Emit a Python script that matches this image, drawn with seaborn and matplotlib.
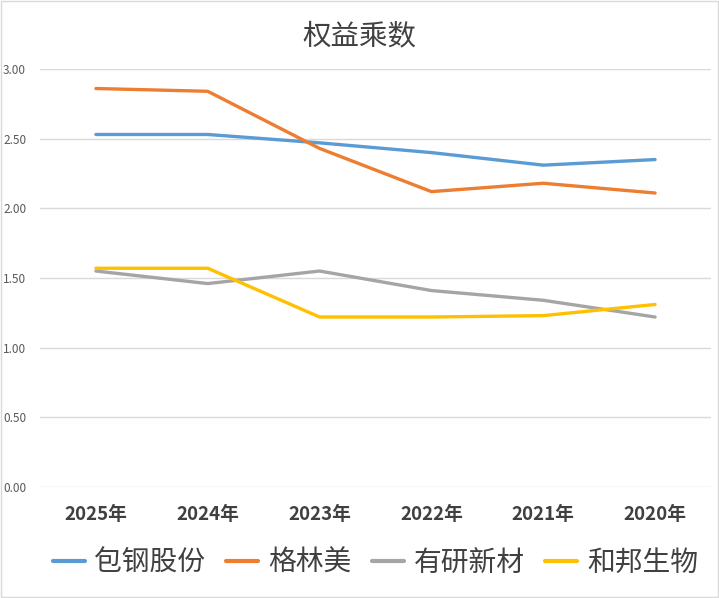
import pandas as pd
import matplotlib.pyplot as plt
import seaborn as sns

# Chart data
years = ["2025年", "2024年", "2023年", "2022年", "2021年", "2020年"]
baogang = [2.53, 2.53, 2.47, 2.40, 2.31, 2.35]
gem = [2.86, 2.84, 2.43, 2.12, 2.18, 2.11]
youyan = [1.55, 1.46, 1.55, 1.41, 1.34, 1.22]
hebang = [1.57, 1.57, 1.22, 1.22, 1.23, 1.31]
series_names = ["包钢股份", "格林美", "有研新材", "和邦生物"]
colors = ["#5B9BD5", "#ED7D31", "#A5A5A5", "#FFC000"]
y_ticks = [0.0, 0.5, 1.0, 1.5, 2.0, 2.5, 3.0]


def build_frame():
    """Long-form table for seaborn."""
    rows = []
    for name, values in zip(series_names, [baogang, gem, youyan, hebang]):
        for i, v in enumerate(values):
            rows.append({"pos": i, "year": years[i], "company": name, "value": v})
    return pd.DataFrame(rows)


def main():
    sns.set_style("white")
    plt.rcParams["font.family"] = ["Noto Sans CJK SC", "DejaVu Sans"]

    data = build_frame()
    fig = plt.figure(figsize=(7.19, 5.98), dpi=100)
    ax = fig.add_axes([40 / 719, 1 - 487 / 598, 671 / 719, 418 / 598])

    sns.lineplot(data=data, x="pos", y="value", hue="company",
                 hue_order=series_names, palette=colors, linewidth=2.4,
                 ax=ax, legend=True)

    ax.set_xlim(-0.5, len(years) - 0.5)
    ax.set_ylim(0, 3.0)
    ax.set_yticks(y_ticks)
    ax.set_yticklabels([f"{t:.2f}" for t in y_ticks], fontsize=8.5, color="#595959")
    ax.set_xticks(range(len(years)))
    ax.set_xticklabels(years, fontsize=13.5, fontweight="bold", color="#404040")
    ax.tick_params(axis="both", length=0)
    ax.tick_params(axis="x", pad=13)
    ax.tick_params(axis="y", pad=10)
    ax.grid(axis="y", color="#D9D9D9", linewidth=1)
    ax.set_axisbelow(True)
    for s in ax.spines.values():
        s.set_visible(False)
    ax.set_xlabel("")
    ax.set_ylabel("")

    fig.text(0.5, 1 - 36 / 598, "权益乘数", ha="center", va="center",
             fontsize=20.5, color="#404040")

    handles, labels = ax.get_legend_handles_labels()
    for h in handles:
        h.set_linewidth(3)
    ax.legend(handles, labels, loc="center", bbox_to_anchor=(0.522, 1 - 563 / 598),
              bbox_transform=fig.transFigure, ncol=4, frameon=False,
              fontsize=20, handlelength=1.15, handletextpad=0.35, columnspacing=0.75,
              labelcolor="#404040")

    # light outline around the figure
    fig.patches.append(plt.Rectangle((0.001, 0.001), 0.997, 0.997, transform=fig.transFigure,
                                     fill=False, edgecolor="#D9D9D9", linewidth=1))

    fig.savefig("out.png", dpi=100)
    plt.close(fig)


if __name__ == "__main__":
    main()
